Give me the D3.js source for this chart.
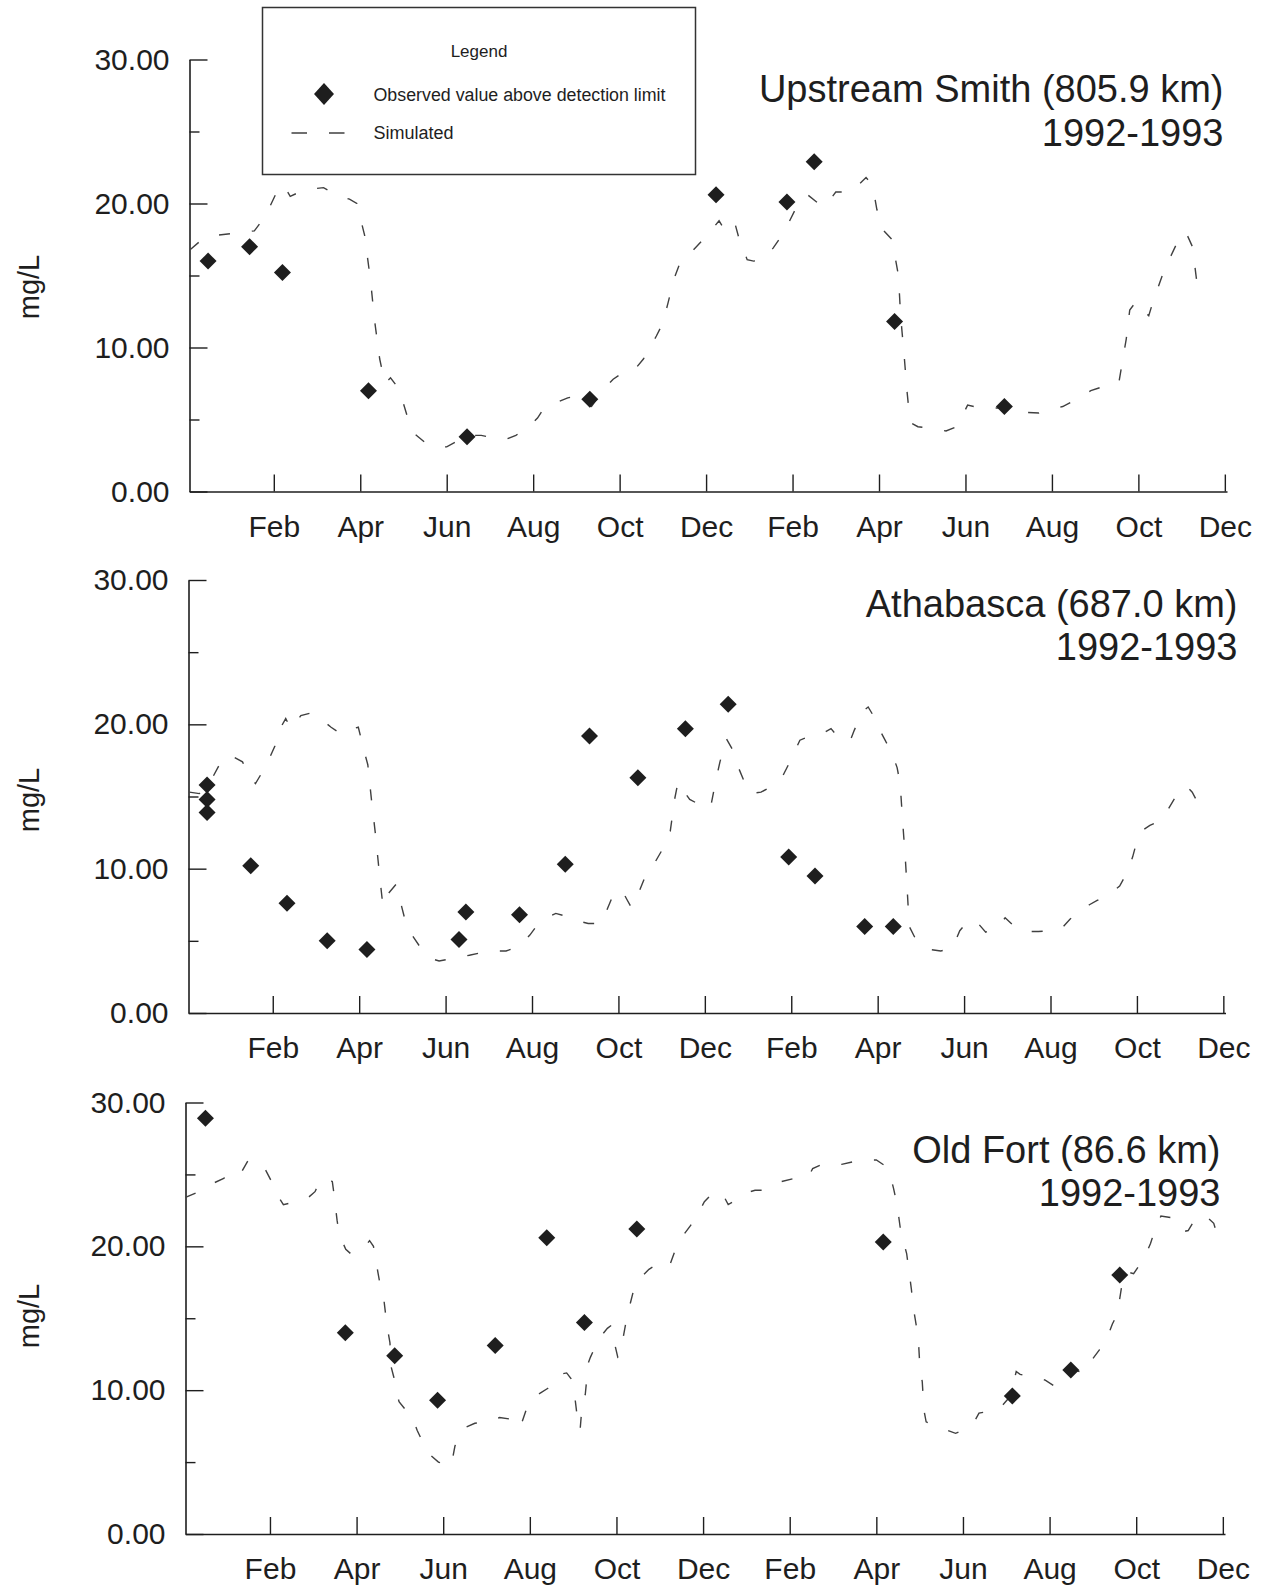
<!DOCTYPE html>
<html>
<head>
<meta charset="utf-8">
<script src="https://cdn.jsdelivr.net/npm/d3@7"></script>
<style>
  html, body { margin: 0; padding: 0; background: #fff; }
  svg { display: block; }
  text { font-family: "Liberation Sans", Arial, Helvetica, sans-serif; fill: #1e1e1e; }
</style>
</head>
<body>
<svg id="chart" width="1264" height="1588"></svg>
<script>
// x values are decimal months counted from 1 Jan 1992 (0 = Jan 1992, 12 = Jan 1993)
const monthTicks = [1, 3, 5, 7, 9, 11, 13, 15, 17, 19, 21, 23];
const monthTickLabels = ["Feb", "Apr", "Jun", "Aug", "Oct", "Dec", "Feb", "Apr", "Jun", "Aug", "Oct", "Dec"];
const valueTicks = [0, 10, 20, 30];
const valueMinorTicks = [5, 15, 25];

// Upstream Smith (805.9 km)
const smithObsMonth = [-0.52, 0.44, 1.2, 3.19, 5.47, 8.31, 11.23, 12.87, 13.5, 15.36, 17.9];
const smithObsValue = [16.0, 17.0, 15.2, 7.0, 3.8, 6.4, 20.6, 20.1, 22.9, 11.8, 5.9];
const smithSimMonth = [-0.93, -0.66, -0.3, 0.0, 0.27, 0.55, 0.8, 1.07, 1.22, 1.38, 1.6, 1.87, 2.15, 2.44, 2.75, 2.92,
  3.1, 3.24, 3.33, 3.45, 3.57, 3.7, 3.9, 4.09, 4.26, 4.5, 4.75, 5.0, 5.3, 5.5, 5.8, 6.1, 6.35, 6.6, 6.9, 7.1, 7.25,
  7.55, 7.8, 7.95, 8.15, 8.35, 8.6, 8.85, 9.0, 9.3, 9.55, 9.85, 10.0, 10.12, 10.25, 10.4, 10.65, 10.9, 11.05, 11.3,
  11.4, 11.5, 11.66, 11.75, 11.95, 12.1, 12.3, 12.55, 12.8, 13.1, 13.35, 13.6, 13.75, 14.0, 14.35, 14.7, 14.85, 14.95,
  15.05, 15.3, 15.45, 15.5, 15.58, 15.65, 15.72, 15.9, 16.2, 16.55, 16.8, 17.05, 17.2, 17.5, 17.9, 18.3, 18.7, 19.0,
  19.25, 19.5, 19.9, 20.3, 20.55, 20.63, 20.72, 20.8, 20.95, 21.1, 21.24, 21.33, 21.6, 21.98, 22.1, 22.25, 22.35, 22.45];
const smithSimValue = [16.8, 17.5, 17.8, 17.9, 18.0, 18.1, 19.1, 20.8, 21.3, 20.5, 20.8, 21.0, 21.1, 20.6, 20.3, 20.0,
  17.8, 14.6, 11.9, 9.2, 7.5, 7.9, 7.1, 5.2, 4.0, 3.4, 3.1, 3.1, 3.6, 3.9, 3.9, 3.7, 3.6, 3.9, 4.5, 5.1, 5.8,
  6.2, 6.5, 6.6, 6.1, 5.9, 7.0, 7.8, 8.1, 8.3, 9.2, 10.8, 11.7, 13.1, 14.7, 15.9, 16.6, 17.4, 17.9, 18.8,
  18.3, 18.8, 18.7, 17.7, 16.1, 16.0, 16.1, 16.9, 18.0, 19.8, 20.6, 20.0, 19.8, 20.8, 20.8, 21.8, 21.3, 19.6,
  18.3, 17.5, 15.0, 12.2, 9.5, 6.9, 4.8, 4.5, 4.4, 4.2, 4.5, 6.0, 5.9, 5.8, 5.8, 5.5, 5.45, 5.7,
  5.9, 6.3, 7.0, 7.4, 7.6, 9.0, 10.6, 12.6, 13.2, 12.6, 12.2, 13.1, 15.4, 17.8, 18.0, 17.0, 14.6, 15.3];

// Athabasca (687.0 km)
const athObsMonth = [-0.52, -0.52, -0.52, 0.49, 1.33, 2.26, 3.18, 5.31, 5.47, 6.71, 7.77, 8.33, 9.45, 10.55, 11.54,
  12.94, 13.55, 14.7, 15.36];
const athObsValue = [15.8, 14.8, 13.9, 10.2, 7.6, 5.0, 4.4, 5.1, 7.0, 6.8, 10.3, 19.2, 16.3, 19.7, 21.4,
  10.8, 9.5, 6.0, 6.0];
const athSimMonth = [-0.93, -0.7, -0.45, -0.2, 0.0, 0.3, 0.45, 0.6, 0.76, 0.9, 1.05, 1.15, 1.3, 1.42, 1.65, 1.9, 2.1,
  2.35, 2.6, 2.86, 2.98, 3.11, 3.2, 3.28, 3.38, 3.47, 3.55, 3.68, 3.85, 3.93, 4.1, 4.2, 4.45, 4.64, 4.85, 5.2, 5.55,
  5.85, 6.1, 6.4, 6.7, 6.95, 7.1, 7.35, 7.55, 7.8, 8.05, 8.3, 8.6, 8.84, 8.95, 9.1, 9.19, 9.3, 9.45, 9.6, 9.8, 10.05,
  10.2, 10.3, 10.38, 10.5, 10.65, 10.9, 11.13, 11.26, 11.35, 11.5, 11.65, 11.75, 11.93, 12.05, 12.3, 12.6, 12.8, 13.0,
  13.2, 13.45, 13.74, 13.92, 14.15, 14.37, 14.46, 14.65, 14.78, 14.92, 15.05, 15.19, 15.32, 15.45, 15.52, 15.58,
  15.64, 15.69, 15.73, 15.9, 16.2, 16.46, 16.73, 16.9, 17.1, 17.27, 17.5, 17.77, 17.95, 18.2, 18.45, 18.72, 19.0,
  19.27, 19.45, 19.7, 19.9, 20.08, 20.35, 20.6, 20.75, 20.9, 20.99, 21.15, 21.3, 21.53, 21.7, 21.88, 22.03, 22.15,
  22.28, 22.42];
const athSimValue = [15.3, 15.2, 16.0, 17.4, 17.9, 17.4, 16.4, 15.9, 16.7, 17.5, 18.5, 19.6, 20.4, 19.7, 20.6, 20.8, 20.4,
  19.8, 19.3, 19.7, 19.8, 18.2, 17.2, 14.9, 12.3, 9.6, 7.4, 8.3, 8.9, 8.0, 6.0, 5.5, 4.4, 3.8, 3.6, 3.8, 4.0,
  4.2, 4.3, 4.3, 4.6, 5.4, 6.0, 6.6, 6.9, 6.7, 6.4, 6.2, 6.2, 7.9, 8.5, 8.4, 7.9, 7.3, 8.2, 9.3, 10.2, 11.5,
  12.6, 14.8, 16.0, 15.4, 14.8, 14.4, 14.2, 16.2, 17.4, 19.0, 18.2, 17.2, 15.9, 15.2, 15.3, 15.8, 16.4, 17.6,
  18.9, 19.2, 19.4, 19.7, 18.9, 18.9, 19.6, 20.9, 21.2, 20.5, 19.6, 18.8, 18.1, 17.0, 15.9, 13.2,
  10.7, 8.2, 6.0, 5.0, 4.4, 4.3, 4.5, 5.7, 6.4, 6.4, 5.6, 5.9, 6.6, 5.9, 5.65, 5.65, 5.7,
  5.9, 6.5, 7.1, 7.5, 7.8, 8.2, 8.8, 9.6, 10.8, 11.8, 12.7, 13.0, 13.3, 14.0, 14.9, 15.5, 15.7,
  15.3, 14.5];

// Old Fort (86.6 km)
const fortObsMonth = [-0.49, 2.74, 3.88, 4.87, 6.2, 7.39, 8.26, 9.47, 15.16, 18.14, 19.49, 20.62];
const fortObsValue = [28.9, 14.0, 12.4, 9.3, 13.1, 20.6, 14.7, 21.2, 20.3, 9.6, 11.4, 18.0];
const fortSimMonth = [-0.95, -0.57, -0.3, -0.08, 0.05, 0.19, 0.35, 0.5, 0.62, 0.74, 0.9, 1.02, 1.12, 1.31, 1.6, 1.85,
  2.04, 2.15, 2.3, 2.44, 2.48, 2.55, 2.6, 2.75, 2.86, 3.12, 3.3, 3.39, 3.45, 3.54, 3.63, 3.7, 3.77, 3.8, 3.86, 3.92,
  3.98, 4.14, 4.3, 4.4, 4.54, 4.7, 4.89, 5.16, 5.22, 5.27, 5.36, 5.5, 5.73, 6.04, 6.3, 6.53, 6.77, 6.97, 7.24, 7.4,
  7.57, 7.7, 7.85, 7.95, 8.02, 8.1, 8.16, 8.2, 8.28, 8.35, 8.4, 8.6, 8.79, 8.88, 8.96, 9.03, 9.08, 9.2, 9.25, 9.4,
  9.55, 9.75, 9.96, 10.22, 10.4, 10.55, 10.7, 10.87, 11.03, 11.25, 11.44, 11.58, 11.75, 11.97, 12.2, 12.36, 12.6,
  12.8, 13.08, 13.3, 13.44, 13.53, 13.75, 13.92, 14.2, 14.5, 14.8, 15.0, 15.2, 15.34, 15.4, 15.47, 15.52, 15.56,
  15.63, 15.7, 15.74, 15.81, 15.85, 15.9, 15.95, 15.98, 16.01, 16.06, 16.1, 16.15, 16.35, 16.56, 16.83, 17.05,
  17.26, 17.37, 17.55, 17.77, 17.9, 18.1, 18.23, 18.32, 18.6, 18.9, 19.13, 19.35, 19.58, 19.8, 20.0, 20.15, 20.3,
  20.45, 20.55, 20.6, 20.68, 20.76, 20.94, 21.1, 21.23, 21.33, 21.45, 21.57, 21.8, 22.05, 22.2, 22.34, 22.5, 22.65,
  22.79, 22.85];
const fortSimValue = [23.4, 23.9, 24.4, 24.7, 25.0, 24.8, 25.2, 26.0, 25.9, 25.8, 25.3, 24.6, 23.8, 22.9, 23.1, 23.3,
  23.8, 24.5, 24.8, 24.5, 23.6, 21.8, 20.8, 19.8, 19.5, 19.7, 20.4, 20.0, 18.9, 17.4, 16.3, 14.5, 13.3, 11.6, 10.9, 9.9,
  9.2, 8.6, 8.0, 7.2, 6.3, 5.5, 5.0, 4.7, 5.3, 6.1, 6.9, 7.4, 7.7, 7.8, 8.1, 8.0, 7.35, 9.1, 9.8, 10.1,
  10.4, 11.1, 11.2, 10.8, 10.0, 8.0, 7.2, 8.7, 9.7, 11.9, 12.3, 13.6, 14.3, 14.5, 13.2, 12.3, 12.45, 14.4, 15.2, 17.0,
  17.8, 18.4, 18.8, 18.6, 20.1, 20.8, 21.4, 22.2, 23.1, 23.8, 23.7, 22.9, 23.2, 23.7, 23.9, 23.9, 24.2,
  24.5, 24.7, 24.7, 24.9, 25.4, 25.7, 25.8, 25.7, 25.9, 26.0, 26.0, 25.6, 24.7, 24.0, 23.0, 22.0, 21.1,
  20.3, 19.5, 18.6, 17.0, 15.8, 14.9, 14.0, 13.0, 11.4, 10.6, 8.6, 7.8, 7.5, 7.3, 7.0, 7.3,
  7.8, 8.4, 8.5, 8.6, 8.9, 9.6, 11.3, 11.1, 10.9, 10.7, 10.25, 10.7, 11.4, 11.2, 12.2, 12.8, 13.4,
  14.6, 15.2, 16.0, 17.5, 18.25, 18.1, 18.8, 19.5, 20.2, 21.3, 22.1, 22.0, 21.0, 21.1, 21.8, 22.2, 22.0,
  21.6, 21.0];

const legendTitle = "Legend";
const legendObserved = "Observed value above detection limit";
const legendSimulated = "Simulated";
const yearLabel = "1992-1993";
const unitLabel = "mg/L";

// Panel layout (pixel geometry for each of the three stacked plots)
const panels = [
  { title: "Upstream Smith (805.9 km)", obsMonth: smithObsMonth, obsValue: smithObsValue,
    simMonth: smithSimMonth, simValue: smithSimValue,
    left: 189.5, right: 1227, bottom: 491.5, top: 59.5,
    titleX: 1223.5, titleY: [102, 146], unitY: 287, legend: true },
  { title: "Athabasca (687.0 km)", obsMonth: athObsMonth, obsValue: athObsValue,
    simMonth: athSimMonth, simValue: athSimValue,
    left: 188.5, right: 1225.5, bottom: 1013, top: 580,
    titleX: 1237.5, titleY: [617, 659.5], unitY: 800, legend: false },
  { title: "Old Fort (86.6 km)", obsMonth: fortObsMonth, obsValue: fortObsValue,
    simMonth: fortSimMonth, simValue: fortSimValue,
    left: 185.5, right: 1225, bottom: 1534, top: 1102.5,
    titleX: 1220.5, titleY: [1163, 1206], unitY: 1316, legend: false }
];

const ink = "#1e1e1e";
const lineInk = "#404040";
const fontFamily = '"Liberation Sans", Arial, Helvetica, sans-serif';
const svg = d3.select("#chart");

function diamondPath(hw, hh) {
  return `M0,${-hh}L${hw},0L0,${hh}L${-hw},0Z`;
}

panels.forEach(p => {
  const x = d3.scaleLinear().domain([-0.95, 23.05]).range([p.left, p.right]);
  const y = d3.scaleLinear().domain([0, 30]).range([p.bottom, p.top]);
  const g = svg.append("g");

  // x axis: ticks point up into the plot
  const xAxis = d3.axisBottom(x)
    .tickValues(monthTicks)
    .tickFormat((d, i) => monthTickLabels[i])
    .tickSizeInner(-17)
    .tickSizeOuter(0)
    .tickPadding(24);
  const gx = g.append("g")
    .attr("transform", `translate(0,${p.bottom})`)
    .call(xAxis)
    .attr("font-size", 30)
    .attr("font-family", fontFamily)
    .style("color", ink);
  gx.select(".domain").attr("stroke-width", 1.6);
  gx.selectAll(".tick line").attr("stroke-width", 1.4);

  // y axis: major ticks with labels, minor ticks between
  const yAxis = d3.axisLeft(y)
    .tickValues(valueTicks)
    .tickFormat(d3.format(".2f"))
    .tickSizeInner(-18)
    .tickSizeOuter(0)
    .tickPadding(20);
  const gy = g.append("g")
    .attr("transform", `translate(${p.left},0)`)
    .call(yAxis)
    .attr("font-size", 30)
    .attr("font-family", fontFamily)
    .style("color", ink);
  gy.select(".domain").attr("stroke-width", 1.6);
  gy.selectAll(".tick line").attr("stroke-width", 1.4);

  const yMinor = d3.axisLeft(y)
    .tickValues(valueMinorTicks)
    .tickFormat("")
    .tickSizeInner(-10)
    .tickSizeOuter(0);
  const gym = g.append("g")
    .attr("transform", `translate(${p.left},0)`)
    .call(yMinor)
    .style("color", ink);
  gym.select(".domain").remove();
  gym.selectAll(".tick line").attr("stroke-width", 1.4);

  // unit label
  g.append("text")
    .attr("transform", `translate(39,${p.unitY}) rotate(-90)`)
    .attr("text-anchor", "middle")
    .attr("font-size", 29)
    .text(unitLabel);

  // station title
  g.append("text")
    .attr("x", p.titleX).attr("y", p.titleY[0])
    .attr("text-anchor", "end").attr("font-size", 38)
    .text(p.title);
  g.append("text")
    .attr("x", p.titleX).attr("y", p.titleY[1])
    .attr("text-anchor", "end").attr("font-size", 38)
    .text(yearLabel);

  // simulated series
  const line = d3.line().x(d => x(d[0])).y(d => y(d[1]));
  g.append("path")
    .datum(d3.zip(p.simMonth, p.simValue))
    .attr("d", line)
    .attr("fill", "none")
    .attr("stroke", lineInk)
    .attr("stroke-width", 1.4)
    .attr("stroke-dasharray", "11,22");

  // observed values
  g.append("g").selectAll("path")
    .data(d3.zip(p.obsMonth, p.obsValue))
    .join("path")
    .attr("transform", d => `translate(${x(d[0])},${y(d[1])})`)
    .attr("d", diamondPath(8.5, 8.5))
    .attr("fill", ink);

  if (p.legend) {
    const lg = svg.append("g");
    lg.append("rect")
      .attr("x", 262.5).attr("y", 7.5).attr("width", 433).attr("height", 167)
      .attr("fill", "#fff").attr("stroke", "#333").attr("stroke-width", 1.5);
    lg.append("text")
      .attr("x", 479).attr("y", 56.5)
      .attr("text-anchor", "middle").attr("font-size", 17)
      .text(legendTitle);
    lg.append("path")
      .attr("transform", "translate(324,94)")
      .attr("d", diamondPath(10, 11))
      .attr("fill", ink);
    lg.append("text")
      .attr("x", 373.5).attr("y", 100.5).attr("font-size", 18)
      .attr("textLength", 292).attr("lengthAdjust", "spacingAndGlyphs")
      .text(legendObserved);
    lg.append("line")
      .attr("x1", 291.5).attr("x2", 345).attr("y1", 133).attr("y2", 133)
      .attr("stroke", lineInk).attr("stroke-width", 1.5)
      .attr("stroke-dasharray", "15.5,22");
    lg.append("text")
      .attr("x", 373.5).attr("y", 139).attr("font-size", 18)
      .text(legendSimulated);
  }
});
</script>
</body>
</html>
